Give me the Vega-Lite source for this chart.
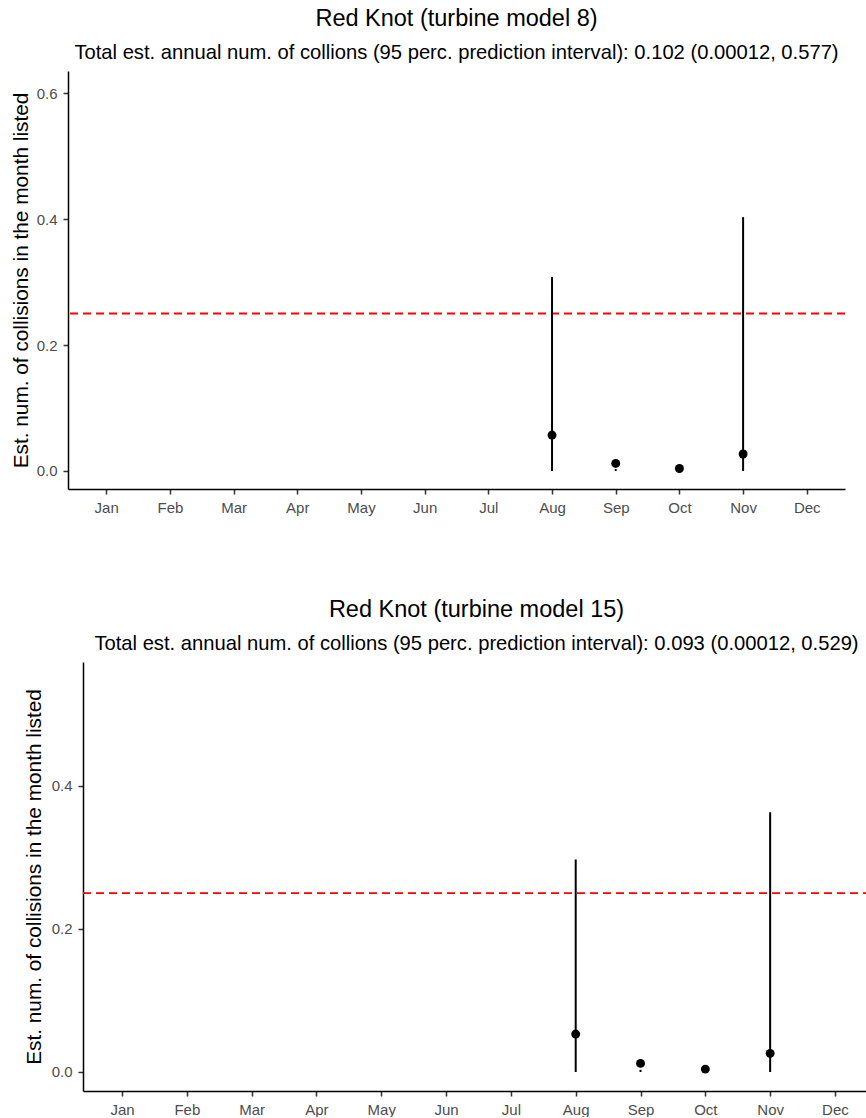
{
  "$schema": "https://vega.github.io/schema/vega-lite/v6.json",
  "background": "white",
  "padding": {"left": 10, "top": 7, "right": 0, "bottom": 0},
  "config": {
    "font": "Liberation Sans",
    "view": {"stroke": null},
    "axis": {
      "grid": false,
      "domainColor": "black",
      "domainWidth": 1.5,
      "tickColor": "#333333",
      "tickWidth": 1.5,
      "tickSize": 5,
      "labelColor": "#4D4D4D",
      "labelFont": "Liberation Sans",
      "labelFontSize": 15,
      "labelPadding": 6,
      "titleFont": "Liberation Sans",
      "titleFontWeight": "normal",
      "titleColor": "black",
      "titleFontSize": 20.8
    },
    "title": {
      "font": "Liberation Sans",
      "fontWeight": "normal",
      "fontSize": 23.5,
      "color": "black",
      "subtitleFont": "Liberation Sans",
      "subtitleFontSize": 20.2,
      "subtitleColor": "black",
      "subtitlePadding": 12,
      "anchor": "middle",
      "frame": "group",
      "offset": 8
    }
  },
  "datasets": {
    "m8": [
      {"month": "Aug", "est": 0.057, "lo": 0.0, "hi": 0.308},
      {"month": "Sep", "est": 0.012, "lo": 0.0, "hi": 0.003},
      {"month": "Oct", "est": 0.004, "lo": 0.0, "hi": 0.002},
      {"month": "Nov", "est": 0.027, "lo": 0.0, "hi": 0.403}
    ],
    "m15": [
      {"month": "Aug", "est": 0.053, "lo": 0.0, "hi": 0.297},
      {"month": "Sep", "est": 0.012, "lo": 0.0, "hi": 0.003},
      {"month": "Oct", "est": 0.004, "lo": 0.0, "hi": 0.002},
      {"month": "Nov", "est": 0.026, "lo": 0.0, "hi": 0.363}
    ],
    "threshold": [{"limit": 0.25}]
  },
  "spacing": 83,
  "vconcat": [
    {
      "width": 777,
      "height": 418,
      "title": {
        "text": "Red Knot (turbine model 8)",
        "subtitle": "Total est. annual num. of collions (95 perc. prediction interval): 0.102 (0.00012, 0.577)"
      },
      "encoding": {
        "x": {
          "field": "month", "type": "ordinal",
          "scale": {"type": "point", "padding": 0.6, "domain": ["Jan","Feb","Mar","Apr","May","Jun","Jul","Aug","Sep","Oct","Nov","Dec"]},
          "axis": {"title": null, "labelAngle": 0}
        }
      },
      "layer": [
        {
          "data": {"name": "threshold"},
          "mark": {"type": "rule", "color": "#FF0000", "strokeWidth": 1.8, "strokeDash": [8, 5]},
          "encoding": {
            "x": null,
            "y": {"field": "limit", "type": "quantitative"}
          }
        },
        {
          "data": {"name": "m8"},
          "mark": {"type": "rule", "color": "black", "strokeWidth": 2},
          "encoding": {
            "y": {"field": "lo", "type": "quantitative"},
            "y2": {"field": "hi"}
          }
        },
        {
          "data": {"name": "m8"},
          "mark": {"type": "point", "filled": true, "color": "black", "size": 80, "opacity": 1},
          "encoding": {
            "y": {
              "field": "est", "type": "quantitative",
              "scale": {"domain": [-0.0286, 0.635], "nice": false, "zero": false},
              "axis": {"title": "Est. num. of collisions in the month listed", "values": [0, 0.2, 0.4, 0.6], "format": ".1f", "titlePadding": 5}
            }
          }
        }
      ]
    },
    {
      "width": 799,
      "height": 429,
      "title": {
        "text": "Red Knot (turbine model 15)",
        "subtitle": "Total est. annual num. of collions (95 perc. prediction interval): 0.093 (0.00012, 0.529)",
        "dx": 9
      },
      "resolve": {"scale": {"x": "independent"}, "axis": {"x": "independent"}},
      "layer": [
        {
          "data": {"name": "threshold"},
          "mark": {"type": "rule", "color": "#FF0000", "strokeWidth": 1.8, "strokeDash": [8, 5]},
          "encoding": {
            "x": {"datum": 0, "type": "quantitative", "scale": {"domain": [0, 1], "range": [15, 799], "nice": false, "zero": false}, "axis": null},
            "x2": {"datum": 1},
            "y": {"field": "limit", "type": "quantitative"}
          }
        },
        {
          "data": {"name": "m15"},
          "encoding": {
            "x": {
              "field": "month", "type": "ordinal",
              "scale": {"type": "point", "range": [15, 799], "padding": 0.548, "align": 0.549, "domain": ["Jan","Feb","Mar","Apr","May","Jun","Jul","Aug","Sep","Oct","Nov","Dec"]},
              "axis": {"title": null, "labelAngle": 0, "orient": "bottom"}
            }
          },
          "layer": [
            {
              "mark": {"type": "rule", "color": "black", "strokeWidth": 2},
              "encoding": {
                "y": {"field": "lo", "type": "quantitative"},
                "y2": {"field": "hi"}
              }
            },
            {
              "mark": {"type": "point", "filled": true, "color": "black", "size": 80, "opacity": 1},
              "encoding": {
                "y": {
                  "field": "est", "type": "quantitative",
                  "scale": {"domain": [-0.0266, 0.573], "nice": false, "zero": false},
                  "axis": {"title": "Est. num. of collisions in the month listed", "values": [0, 0.2, 0.4], "format": ".1f", "titlePadding": 7, "offset": -15}
                }
              }
            }
          ]
        }
      ]
    }
  ]
}
